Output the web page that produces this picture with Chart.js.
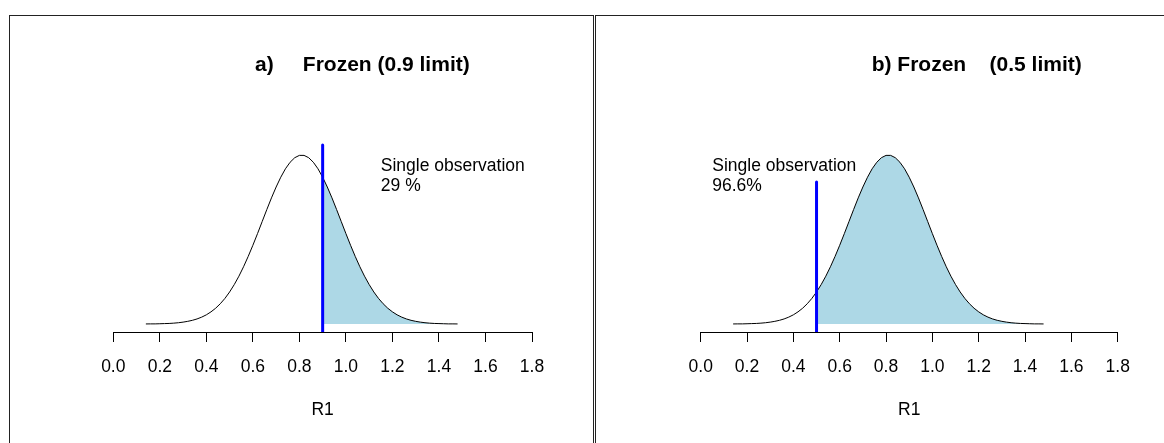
<!DOCTYPE html>
<html>
<head>
<meta charset="utf-8">
<script src="https://cdn.jsdelivr.net/npm/chart.js@4.4.1/dist/chart.umd.min.js"></script>
<style>
	body { margin: 0; background: #fff; width: 1164px; height: 443px; overflow: hidden; position: relative; }
	.box { position: absolute; top: 15px; height: 470px; border: 1px solid #222; box-sizing: border-box; }
	#box-a { left: 9px; width: 585px; }
	#box-b { left: 595px; width: 620px; }
	canvas { position: absolute; top: 0; }
	#chart-a { left: 0; }
	#chart-b { left: 590px; }
</style>
</head>
<body>
<div class="box" id="box-a"></div>
<div class="box" id="box-b"></div>
<canvas id="chart-a" width="590" height="443"></canvas>
<canvas id="chart-b" width="574" height="443"></canvas>
<script>
// density of R1 (same estimate in both panels)
var r1Grid = [0.14, 0.16, 0.18, 0.20, 0.22, 0.24, 0.26, 0.28, 0.30, 0.32, 0.34, 0.36, 0.38, 0.40, 0.42, 0.44, 0.46,
	0.48, 0.50, 0.52, 0.54, 0.56, 0.58, 0.60, 0.62, 0.64, 0.66, 0.68, 0.70, 0.72, 0.74, 0.76, 0.78, 0.80,
	0.82, 0.84, 0.86, 0.88, 0.90, 0.92, 0.94, 0.96, 0.98, 1.00, 1.02, 1.04, 1.06, 1.08, 1.10, 1.12, 1.14,
	1.16, 1.18, 1.20, 1.22, 1.24, 1.26, 1.28, 1.30, 1.32, 1.34, 1.36, 1.38, 1.40, 1.42, 1.44, 1.46, 1.48];
var r1Density = [0.001, 0.002, 0.002, 0.004, 0.006, 0.008, 0.012, 0.018, 0.026, 0.037, 0.051, 0.070, 0.095, 0.127, 0.168, 0.218, 0.280,
	0.354, 0.442, 0.544, 0.660, 0.790, 0.933, 1.086, 1.247, 1.413, 1.579, 1.740, 1.890, 2.025, 2.141, 2.231, 2.294, 2.326,
	2.326, 2.294, 2.231, 2.141, 2.025, 1.890, 1.740, 1.579, 1.413, 1.247, 1.086, 0.933, 0.790, 0.660, 0.544, 0.442, 0.354,
	0.280, 0.218, 0.168, 0.127, 0.095, 0.070, 0.051, 0.037, 0.026, 0.018, 0.012, 0.008, 0.006, 0.004, 0.002, 0.002, 0.001];

var panelTitles = ['a)     Frozen (0.9 limit)', 'b) Frozen    (0.5 limit)'];
var limits = [0.9, 0.5];
var limitLineTops = [2.47, 1.96];
var exceedShares = ['29 %', '96.6%'];
var xTicks = [0, 0.2, 0.4, 0.6, 0.8, 1.0, 1.2, 1.4, 1.6, 1.8];
var axisLabel = 'R1';

// placement of each panel inside its canvas
var panelLayout = [
	{ canvas: 'chart-a', padLeft: 113.3, padRight: 58, titleX: 255, noteAt: 1.15 },
	{ canvas: 'chart-b', padLeft: 110.7, padRight: 46.3, titleX: 281.7, noteAt: 0.05 }
];

var FONT = '"Liberation Sans", Arial, Helvetica, sans-serif';
var Y_MIN = -0.11;
Chart.defaults.font.family = FONT;
Chart.defaults.color = '#000';

var panelText = {
	id: 'panelText',
	afterDraw: function (chart, args, opts) {
		var ctx = chart.ctx;
		var x = chart.scales.x.getPixelForValue(opts.noteAt);
		ctx.save();
		ctx.fillStyle = '#000';
		ctx.textAlign = 'left';
		ctx.textBaseline = 'alphabetic';
		ctx.font = 'bold 21px ' + FONT;
		ctx.fillText(opts.title, opts.titleX, 70.5);
		ctx.font = '17.5px ' + FONT;
		ctx.fillText('Single observation', x, 170.5);
		ctx.fillText(opts.share, x, 190.5);
		ctx.restore();
	}
};

function buildPanel(i) {
	var lay = panelLayout[i];
	var curve = r1Grid.map(function (x, k) { return { x: x, y: r1Density[k] }; });
	var tail = curve.filter(function (p) { return p.x >= limits[i] - 1e-9; });
	var limitLine = [{ x: limits[i], y: Y_MIN }, { x: limits[i], y: limitLineTops[i] }];

	new Chart(lay.canvas, {
		type: 'line',
		data: {
			datasets: [
				{ data: limitLine, borderColor: '#0000ff', borderWidth: 3, borderCapStyle: 'round', pointRadius: 0, fill: false, order: 0 },
				{ data: curve, borderColor: '#000', borderWidth: 1, pointRadius: 0, fill: false, tension: 0, order: 1 },
				{ data: tail, borderColor: 'rgba(0,0,0,0)', borderWidth: 0, backgroundColor: '#add8e6', pointRadius: 0, fill: 'origin', tension: 0, order: 2 }
			]
		},
		options: {
			responsive: false,
			animation: false,
			events: [],
			layout: { padding: { left: lay.padLeft, right: lay.padRight, top: 100, bottom: 22.5 } },
			plugins: {
				legend: { display: false },
				tooltip: { enabled: false },
				panelText: { title: panelTitles[i], titleX: lay.titleX, noteAt: lay.noteAt, share: exceedShares[i] }
			},
			scales: {
				x: {
					type: 'linear',
					min: xTicks[0],
					max: xTicks[xTicks.length - 1],
					afterBuildTicks: function (scale) {
						scale.ticks = xTicks.map(function (v) { return { value: v }; });
					},
					ticks: {
						autoSkip: false,
						maxRotation: 0,
						padding: 14.5,
						color: '#000',
						font: { size: 17.5 },
						callback: function (v) { return Number(v).toFixed(1); }
					},
					grid: { drawOnChartArea: false, drawTicks: true, tickLength: 10, color: '#000', lineWidth: 1 },
					border: { display: true, color: '#000', width: 1 },
					title: { display: true, text: axisLabel, color: '#000', font: { size: 17.5 }, padding: { top: 7.5, bottom: 0 } }
				},
				y: { display: false, min: Y_MIN, max: 3.09 }
			}
		},
		plugins: [panelText]
	});
}

buildPanel(0);
buildPanel(1);
</script>
</body>
</html>
